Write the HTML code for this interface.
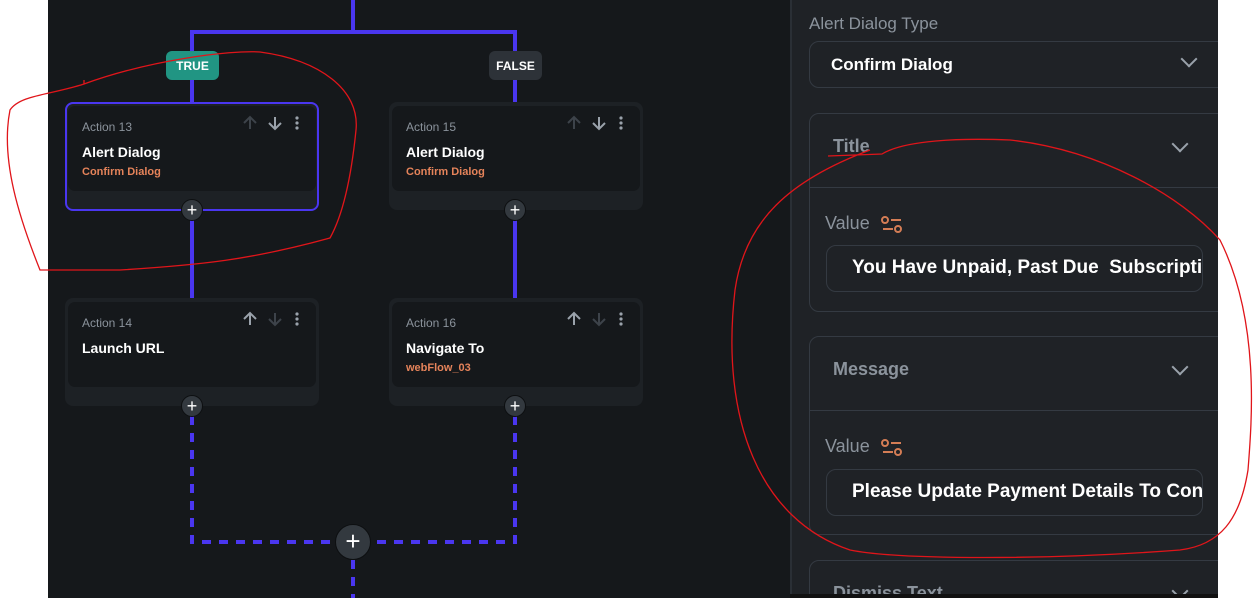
<!DOCTYPE html>
<html><head><meta charset="utf-8"><style>
*{margin:0;padding:0;box-sizing:border-box}
body{width:1255px;height:598px;overflow:hidden;background:#fff;font-family:"Liberation Sans",sans-serif;position:relative}
.abs{position:absolute}
.canvas{left:48px;top:0;width:742px;height:598px;background:#15181b}
.card{position:absolute;width:254px;height:108px;background:#1d2125;border-radius:8px}
.inner{position:absolute;left:3px;top:4px;width:248px;height:85px;background:#15181b;border-radius:7px}
.act{position:absolute;left:14px;top:14px;font-size:12px;color:#8b939c}
.ttl{position:absolute;left:14px;top:38px;font-size:14px;font-weight:bold;color:#fff}
.sub{position:absolute;left:14px;top:60px;font-size:11px;font-weight:bold;color:#e5835a}
.ic{position:absolute;top:9px}
.plus{position:absolute;width:22px;height:22px;border-radius:50%;background:#33393f;border:1px solid #0d0f11;color:#fff;text-align:center;line-height:20px;font-size:18px}
.panel{left:790px;top:0;width:428px;height:594px;background:#1f2226;border-left:2px solid #2a2f35;overflow:hidden}
.box{position:absolute;left:17px;width:440px;border:1px solid #343a42;border-radius:10px}
.lbl{position:absolute;color:#8b939c}
.chev{position:absolute;width:12px;height:12px;border-right:2px solid #9aa2ab;border-bottom:2px solid #9aa2ab;transform:rotate(45deg)}
.inp{position:absolute;left:16px;width:377px;height:47px;border:1px solid #343a42;border-radius:10px;color:#fff;font-weight:bold;font-size:19px;padding:11px 0 0 25px;white-space:nowrap;overflow:hidden}
</style></head><body>
<div class="abs canvas"></div>
<svg width="0" height="0" style="position:absolute"><defs>
<symbol id="up" viewBox="0 0 16 16"><path d="M8 14V2M2 8l6-6 6 6" fill="none" stroke="currentColor" stroke-width="2"/></symbol>
<symbol id="dn" viewBox="0 0 16 16"><path d="M8 2v12M2 8l6 6 6-6" fill="none" stroke="currentColor" stroke-width="2"/></symbol>
<symbol id="dots" viewBox="0 0 16 16"><circle cx="8" cy="3" r="1.6" fill="currentColor"/><circle cx="8" cy="8" r="1.6" fill="currentColor"/><circle cx="8" cy="13" r="1.6" fill="currentColor"/></symbol>
<symbol id="val" viewBox="0 0 22 18"><g fill="none" stroke="#d47d55" stroke-width="2"><circle cx="4" cy="4" r="3"/><path d="M10 4h10M2 13h10"/><circle cx="17" cy="13" r="3"/></g></symbol>
</defs></svg>
<svg class="abs" style="left:0;top:0" width="790" height="598">
<g fill="#4a36f0">
<rect x="351" y="0" width="4" height="34"/>
<rect x="190" y="30" width="327" height="4"/>
<rect x="190" y="30" width="4" height="75"/>
<rect x="513" y="30" width="4" height="75"/>
<rect x="190" y="210" width="4" height="90"/>
<rect x="513" y="210" width="4" height="90"/>
</g>
<g stroke="#4a36f0" stroke-width="4" fill="none" stroke-dasharray="9,8">
<path d="M192 416 V542 H340"/>
<path d="M515 416 V542 H370"/>
<path d="M353 560 V598"/>
</g>
</svg>
<div class="abs" style="left:166px;top:51px;width:53px;height:29px;background:#219583;border-radius:6px;color:#fff;font-weight:bold;font-size:12px;text-align:center;line-height:30px">TRUE</div>
<div class="abs" style="left:489px;top:51px;width:53px;height:29px;background:#2d3238;border-radius:6px;color:#fff;font-weight:bold;font-size:12px;text-align:center;line-height:30px">FALSE</div>

<div class="card" style="left:65px;top:102px;border:2px solid #4a36f0;height:109px"><div class="inner" style="left:1px;top:2px"><div class="act">Action 13</div><div class="ttl">Alert Dialog</div><div class="sub">Confirm Dialog</div><svg class="ic" style="left:174px;color:#3d434a" width="16" height="16"><use href="#up"/></svg><svg class="ic" style="left:199px;color:#9aa2ab" width="16" height="16"><use href="#dn"/></svg><svg class="ic" style="left:221px;color:#9aa2ab" width="16" height="16"><use href="#dots"/></svg></div></div>
<div class="card" style="left:389px;top:102px"><div class="inner"><div class="act">Action 15</div><div class="ttl">Alert Dialog</div><div class="sub">Confirm Dialog</div><svg class="ic" style="left:174px;color:#3d434a" width="16" height="16"><use href="#up"/></svg><svg class="ic" style="left:199px;color:#9aa2ab" width="16" height="16"><use href="#dn"/></svg><svg class="ic" style="left:221px;color:#9aa2ab" width="16" height="16"><use href="#dots"/></svg></div></div>
<div class="card" style="left:65px;top:298px"><div class="inner"><div class="act">Action 14</div><div class="ttl">Launch URL</div><svg class="ic" style="left:174px;color:#9aa2ab" width="16" height="16"><use href="#up"/></svg><svg class="ic" style="left:199px;color:#3d434a" width="16" height="16"><use href="#dn"/></svg><svg class="ic" style="left:221px;color:#9aa2ab" width="16" height="16"><use href="#dots"/></svg></div></div>
<div class="card" style="left:389px;top:298px"><div class="inner"><div class="act">Action 16</div><div class="ttl">Navigate To</div><div class="sub">webFlow_03</div><svg class="ic" style="left:174px;color:#9aa2ab" width="16" height="16"><use href="#up"/></svg><svg class="ic" style="left:199px;color:#3d434a" width="16" height="16"><use href="#dn"/></svg><svg class="ic" style="left:221px;color:#9aa2ab" width="16" height="16"><use href="#dots"/></svg></div></div>
<div class="plus" style="left:181px;top:199px">+</div>
<div class="plus" style="left:504px;top:199px">+</div>
<div class="plus" style="left:181px;top:395px">+</div>
<div class="plus" style="left:504px;top:395px">+</div>
<div class="plus" style="left:335px;top:524px;width:36px;height:36px;line-height:33px;font-size:26px">+</div>

<div class="abs panel">
<div class="lbl" style="left:17px;top:14px;font-size:17px">Alert Dialog Type</div>
<div class="box" style="top:41px;height:47px"><div style="position:absolute;left:21px;top:13px;color:#fff;font-weight:bold;font-size:17px">Confirm Dialog</div><div class="chev" style="left:373px;top:11px"></div></div>
<div class="box" style="top:113px;height:199px"><div class="lbl" style="left:23px;top:22px;font-weight:bold;font-size:18px">Title</div><div class="chev" style="left:364px;top:24px"></div><div style="position:absolute;left:0;top:73px;width:440px;border-top:1px solid #343a42"></div><div class="lbl" style="left:15px;top:99px;font-size:18px">Value</div><svg style="position:absolute;left:71px;top:102px" width="22" height="18"><use href="#val"/></svg><div class="inp" style="top:131px">You Have Unpaid, Past Due&nbsp; Subscription</div></div>
<div class="box" style="top:336px;height:199px"><div class="lbl" style="left:23px;top:22px;font-weight:bold;font-size:18px">Message</div><div class="chev" style="left:364px;top:24px"></div><div style="position:absolute;left:0;top:73px;width:440px;border-top:1px solid #343a42"></div><div class="lbl" style="left:15px;top:99px;font-size:18px">Value</div><svg style="position:absolute;left:71px;top:102px" width="22" height="18"><use href="#val"/></svg><div class="inp" style="top:132px">Please Update Payment Details To Continue</div></div>
<div class="box" style="top:560px;height:60px"><div class="lbl" style="left:23px;top:22px;font-weight:bold;font-size:18px">Dismiss Text</div><div class="chev" style="left:364px;top:24px"></div></div>
</div>
<div class="abs" style="left:790px;top:594px;width:428px;height:4px;background:#111"></div>

<svg class="abs" style="left:0;top:0" width="1255" height="598" fill="none" stroke="#e0151a" stroke-width="1.3">
<path d="M84 84 C150 60 230 50 260 52 C320 60 360 90 356 130 C350 190 340 220 330 238 C250 260 200 265 120 270 L40 270 C20 220 0 160 10 110 C20 95 50 95 84 84 M84 84 L84 80"/>
<path d="M828 156 L882 154 C905 140 960 138 1010 140 C1100 150 1180 195 1220 240 C1260 320 1252 420 1248 470 C1240 520 1220 545 1180 550 C1050 560 900 560 850 550 C760 520 720 420 735 290 C745 220 790 180 870 150"/>
</svg>
</body></html>
